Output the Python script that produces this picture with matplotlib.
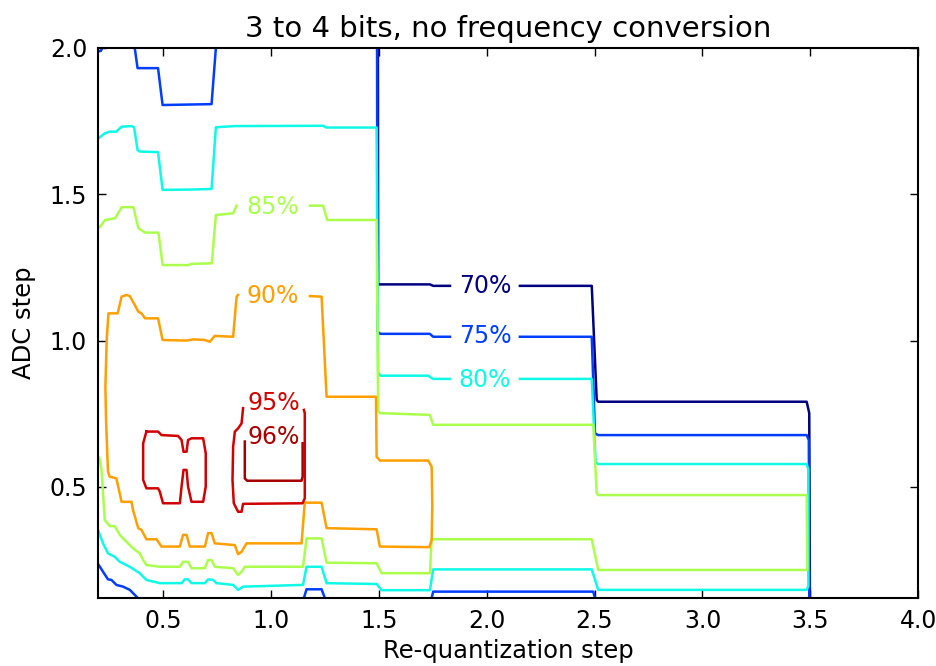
import matplotlib
matplotlib.use('Agg')
import matplotlib.pyplot as plt
from matplotlib.colors import Normalize

levels = [70, 75, 80, 85, 90, 95, 96]

# iso-lines of the success rate, as (requant step, ADC step) points
# a line is cut into pieces where its label sits
c70 = [
    [(1.496, 2.0), (1.497, 1.192), (1.508, 1.192), (1.737, 1.192), (1.752, 1.187), (1.83, 1.187)],
    [(2.154, 1.187), (2.487, 1.187), (2.51, 0.797), (2.517, 0.791), (3.483, 0.791),
     (3.495, 0.752), (3.498, 0.12)],
]
c75 = [
    [(0.2, 1.988), (0.212, 1.99), (0.218, 2.0)],
    [(0.369, 2.0), (0.382, 1.931), (0.477, 1.931), (0.498, 1.805), (0.725, 1.808), (0.745, 2.0)],
    [(1.492, 2.0), (1.494, 1.03), (1.508, 1.023), (1.737, 1.023), (1.752, 1.013), (1.83, 1.013)],
    [(2.154, 1.013), (2.487, 1.013), (2.502, 0.683), (2.517, 0.677), (3.483, 0.677),
     (3.493, 0.66), (3.495, 0.12)],
    [(0.203, 0.232), (0.222, 0.210), (0.245, 0.184), (0.261, 0.182), (0.284, 0.165),
     (0.315, 0.159), (0.346, 0.148), (0.369, 0.131), (0.383, 0.12)],
    [(1.153, 0.12), (1.165, 0.150), (1.235, 0.150), (1.250, 0.12)],
    [(1.745, 0.12), (1.752, 0.142), (2.494, 0.142), (2.502, 0.12)],
]
c80 = [
    [(0.2, 1.69), (0.207, 1.695), (0.230, 1.708), (0.253, 1.714), (0.284, 1.714), (0.308, 1.731),
     (0.354, 1.733), (0.366, 1.729), (0.382, 1.651), (0.392, 1.646), (0.477, 1.644),
     (0.498, 1.515), (0.624, 1.516), (0.725, 1.518), (0.745, 1.729), (0.833, 1.733),
     (1.242, 1.734), (1.258, 1.728), (1.49, 1.728), (1.497, 0.89), (1.508, 0.880),
     (1.729, 0.880), (1.752, 0.869), (1.83, 0.869)],
    [(2.154, 0.869), (2.487, 0.869), (2.505, 0.585), (2.517, 0.578), (3.483, 0.578),
     (3.491, 0.56), (3.491, 0.16), (3.483, 0.148), (2.517, 0.148), (2.487, 0.218),
     (1.752, 0.218), (1.737, 0.147), (1.513, 0.147), (1.49, 0.168), (1.258, 0.171),
     (1.235, 0.227), (1.165, 0.227), (1.149, 0.165), (0.871, 0.159), (0.848, 0.148),
     (0.825, 0.165), (0.748, 0.171), (0.732, 0.182), (0.709, 0.184), (0.694, 0.171),
     (0.632, 0.171), (0.616, 0.184), (0.601, 0.184), (0.586, 0.171), (0.485, 0.171),
     (0.423, 0.182), (0.392, 0.205), (0.346, 0.227), (0.300, 0.244), (0.276, 0.261),
     (0.245, 0.273), (0.222, 0.307), (0.207, 0.336), (0.2, 0.35)],
]
c85 = [
    [(0.2, 1.385), (0.208, 1.389), (0.232, 1.412), (0.278, 1.418), (0.309, 1.456),
     (0.363, 1.456), (0.386, 1.384), (0.417, 1.369), (0.479, 1.369), (0.498, 1.258),
     (0.618, 1.258), (0.633, 1.262), (0.726, 1.264), (0.745, 1.429), (0.825, 1.435),
     (0.841, 1.461)],
    [(1.181, 1.461), (1.242, 1.461), (1.261, 1.412), (1.49, 1.412), (1.497, 0.76),
     (1.505, 0.752), (1.737, 0.746), (1.752, 0.712), (2.494, 0.712), (2.51, 0.478),
     (2.517, 0.472), (3.483, 0.472), (3.486, 0.216), (2.517, 0.216), (2.487, 0.321),
     (1.745, 0.321), (1.737, 0.205), (1.513, 0.205), (1.49, 0.239), (1.258, 0.241),
     (1.235, 0.324), (1.165, 0.324), (1.149, 0.227), (0.879, 0.227), (0.864, 0.210),
     (0.848, 0.199), (0.825, 0.222), (0.740, 0.227), (0.725, 0.250), (0.709, 0.250),
     (0.694, 0.222), (0.632, 0.222), (0.616, 0.244), (0.593, 0.244), (0.578, 0.227),
     (0.485, 0.227), (0.423, 0.233), (0.408, 0.250), (0.392, 0.273), (0.361, 0.290),
     (0.315, 0.324), (0.300, 0.336), (0.276, 0.366), (0.253, 0.366), (0.230, 0.387),
     (0.215, 0.558), (0.205, 0.6)],
]
c90 = [
    [(0.848, 1.156), (0.841, 1.150), (0.825, 1.013), (0.740, 1.016), (0.717, 0.996),
     (0.694, 1.002), (0.640, 1.004), (0.609, 1.000), (0.498, 1.002), (0.477, 1.076),
     (0.417, 1.076), (0.400, 1.093), (0.385, 1.099), (0.369, 1.122), (0.346, 1.152),
     (0.331, 1.156), (0.308, 1.150), (0.290, 1.093), (0.247, 1.093), (0.239, 1.002),
     (0.233, 0.842), (0.236, 0.729), (0.245, 0.552), (0.253, 0.535), (0.284, 0.529),
     (0.308, 0.449), (0.354, 0.449), (0.361, 0.421), (0.385, 0.359), (0.400, 0.353),
     (0.423, 0.321), (0.470, 0.321), (0.493, 0.296), (0.578, 0.296), (0.593, 0.336),
     (0.609, 0.336), (0.624, 0.296), (0.694, 0.296), (0.709, 0.342), (0.725, 0.342),
     (0.740, 0.307), (0.833, 0.301), (0.848, 0.270), (0.864, 0.278), (0.887, 0.307),
     (1.142, 0.307), (1.157, 0.446), (1.235, 0.446), (1.258, 0.359), (1.490, 0.355),
     (1.505, 0.296), (1.734, 0.294), (1.745, 0.318), (1.748, 0.44), (1.745, 0.569),
     (1.729, 0.590), (1.505, 0.590), (1.490, 0.603), (1.487, 0.808), (1.258, 0.808),
     (1.235, 1.150), (1.181, 1.152)],
]
c95 = [
    [(0.423, 0.689), (0.477, 0.689), (0.493, 0.677), (0.570, 0.674), (0.586, 0.660),
     (0.595, 0.620), (0.609, 0.620), (0.616, 0.660), (0.632, 0.666), (0.686, 0.666),
     (0.698, 0.615), (0.698, 0.501), (0.686, 0.449), (0.632, 0.449), (0.616, 0.501),
     (0.609, 0.558), (0.595, 0.558), (0.586, 0.501), (0.578, 0.444), (0.500, 0.444),
     (0.485, 0.484), (0.477, 0.495), (0.423, 0.495), (0.408, 0.524), (0.408, 0.649),
     (0.423, 0.689)],
    [(0.871, 0.769), (0.864, 0.717), (0.848, 0.700), (0.833, 0.689), (0.825, 0.637),
     (0.822, 0.524), (0.828, 0.444), (0.848, 0.415), (0.864, 0.415), (0.871, 0.442),
     (1.147, 0.444), (1.157, 0.461), (1.157, 0.752), (1.153, 0.763)],
]
c96 = [
    [(0.879, 0.655), (0.879, 0.529), (0.890, 0.521), (1.142, 0.521), (1.147, 0.535),
     (1.147, 0.649)],
]
contours = [c70, c75, c80, c85, c90, c95, c96]

# label positions (x, y) for each level
label_pos = [(1.992, 1.187), (1.992, 1.016), (1.992, 0.865), (1.010, 1.457),
             (1.010, 1.152), (1.014, 0.785), (1.014, 0.672)]

norm = Normalize(vmin=70, vmax=97)

fig = plt.figure(figsize=(9.36, 6.66), dpi=100)
ax = fig.add_axes([0.105, 0.102, 0.876, 0.826])

for lev, pieces, (lx, ly) in zip(levels, contours, label_pos):
    col = plt.cm.jet(norm(lev))
    for piece in pieces:
        xs = [p[0] for p in piece]
        ys = [p[1] for p in piece]
        ax.plot(xs, ys, color=col, lw=1.8)
    ax.text(lx, ly, '%d%%' % lev, color=col, fontsize=17, ha='center', va='center')

ax.set_xlim(0.2, 4.0)
ax.set_ylim(0.12, 2.0)
ax.set_xticks([0.5, 1.0, 1.5, 2.0, 2.5, 3.0, 3.5, 4.0])
ax.set_yticks([0.5, 1.0, 1.5, 2.0])
ax.tick_params(direction='in', top=True, right=True, length=6, width=1, labelsize=17, pad=8)
for s in ax.spines.values():
    s.set_linewidth(1.5)

ax.set_title('3 to 4 bits, no frequency conversion', fontsize=21, pad=8)
ax.set_xlabel('Re-quantization step', fontsize=17.5)
ax.set_ylabel('ADC step', fontsize=17.5, labelpad=10)

fig.savefig('out.png', dpi=100)
